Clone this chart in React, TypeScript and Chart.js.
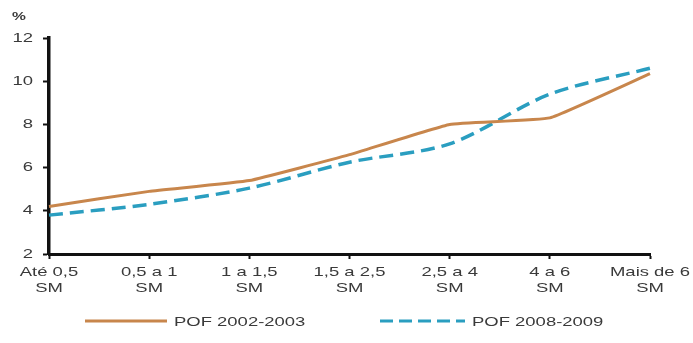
import React, { useEffect, useRef } from "react";
import { Chart, registerables } from "chart.js";

Chart.register(...registerables);

const categories: string[][] = [
  ["Até 0,5", "SM"],
  ["0,5 a 1", "SM"],
  ["1 a 1,5", "SM"],
  ["1,5 a 2,5", "SM"],
  ["2,5 a 4", "SM"],
  ["4 a 6", "SM"],
  ["Mais de 6", "SM"],
];
const pof2002: number[] = [4.2, 4.9, 5.4, 6.6, 8.0, 8.3, 10.35];
const pof2008: number[] = [3.8, 4.3, 5.05, 6.25, 7.1, 9.4, 10.6];
const seriesNames: string[] = ["POF 2002-2003", "POF 2008-2009"];
const yUnit = "%";

const ORANGE = "#C8864C";
const BLUE = "#2A9EC0";
const TEXT = "#3a3a3a";
const FONT = "'Liberation Sans', Arial, sans-serif";
// The labels use a wide, horizontally stretched face.
const STRETCH = 1.42;

function wideText(
  ctx: CanvasRenderingContext2D,
  text: string,
  x: number,
  y: number,
  align: CanvasTextAlign
) {
  ctx.save();
  ctx.translate(x, y);
  ctx.scale(STRETCH, 1);
  ctx.textAlign = align;
  ctx.textBaseline = "middle";
  ctx.fillText(text, 0, 0);
  ctx.restore();
}

// Tick labels, unit label and legend, all drawn in the stretched face.
const decorations = {
  id: "decorations",
  afterDraw(chart: any) {
    const ctx = chart.ctx as CanvasRenderingContext2D;
    const xs = chart.scales.x;
    const ys = chart.scales.y;
    ctx.save();
    ctx.fillStyle = TEXT;

    ctx.font = `bold 11px ${FONT}`;
    wideText(ctx, yUnit, 12, 17, "left");

    ctx.font = `13px ${FONT}`;
    ys.ticks.forEach((t: any, i: number) => {
      wideText(ctx, String(t.value), 33, ys.getPixelForTick(i), "right");
    });

    const labels = chart.data.labels as string[][];
    xs.ticks.forEach((_t: any, i: number) => {
      const px = xs.getPixelForTick(i);
      const lines = labels[i];
      lines.forEach((line, j) => {
        wideText(ctx, line, px, 272 + j * 16, "center");
      });
    });

    const y = 321;
    chart.data.datasets.forEach((ds: any, i: number) => {
      const x0 = i === 0 ? 85 : 380;
      const x1 = i === 0 ? 167 : 465;
      ctx.strokeStyle = ds.borderColor;
      ctx.lineWidth = 3;
      ctx.setLineDash(ds.borderDash ? [13, 6] : []);
      ctx.beginPath();
      ctx.moveTo(x0, y);
      ctx.lineTo(x1, y);
      ctx.stroke();
      ctx.setLineDash([]);
      ctx.fillStyle = TEXT;
      wideText(ctx, ds.label, x1 + 7, y + 1, "left");
    });
    ctx.restore();
  },
};

export default function App() {
  const canvasRef = useRef<HTMLCanvasElement | null>(null);

  useEffect(() => {
    if (!canvasRef.current) return;
    const chart = new Chart(canvasRef.current, {
      type: "line",
      data: {
        labels: categories,
        datasets: [
          {
            label: seriesNames[0],
            data: pof2002,
            borderColor: ORANGE,
            backgroundColor: ORANGE,
            borderWidth: 3,
            pointRadius: 0,
            tension: 0.1,
          },
          {
            label: seriesNames[1],
            data: pof2008,
            borderColor: BLUE,
            backgroundColor: BLUE,
            borderWidth: 3.5,
            borderDash: [14, 7],
            pointRadius: 0,
            tension: 0.3,
          },
        ],
      },
      options: {
        animation: false,
        responsive: false,
        maintainAspectRatio: false,
        layout: { padding: { top: 38, right: 43, bottom: 0, left: 0 } },
        plugins: {
          legend: { display: false },
          tooltip: { enabled: false },
        },
        scales: {
          x: {
            offset: false,
            grid: {
              drawOnChartArea: false,
              drawTicks: true,
              tickLength: 5,
              tickWidth: 2,
              color: "#111",
            },
            border: { display: true, color: "#111", width: 3 },
            ticks: { display: false, autoSkip: false },
            afterFit: (s: any) => {
              s.height = 89;
            },
          },
          y: {
            min: 2,
            max: 12,
            grid: {
              drawOnChartArea: false,
              drawTicks: true,
              tickLength: 6,
              tickWidth: 2,
              color: "#111",
            },
            border: { display: true, color: "#111", width: 3.5 },
            ticks: { display: false, stepSize: 2 },
            afterFit: (s: any) => {
              s.width = 49;
            },
          },
        },
      },
      plugins: [decorations],
    });
    return () => chart.destroy();
  }, []);

  return (
    <div style={{ position: "fixed", left: 0, top: 0, width: 693, height: 343, background: "#fff" }}>
      <canvas ref={canvasRef} width={693} height={343} style={{ display: "block" }} />
    </div>
  );
}
